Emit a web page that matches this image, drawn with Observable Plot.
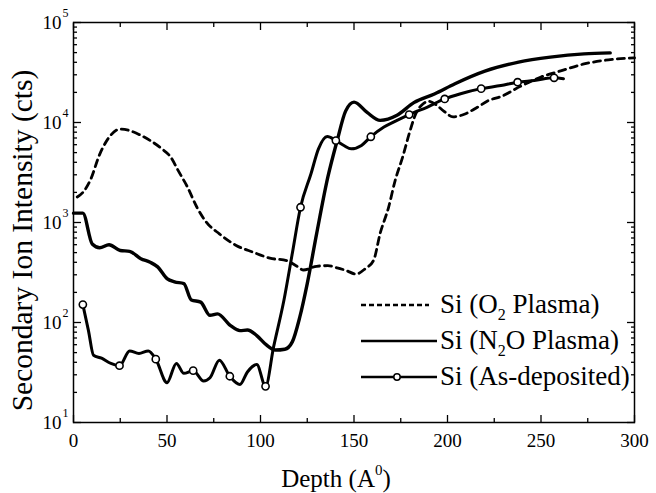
<!DOCTYPE html>
<html>
<head>
<meta charset="utf-8">
<script src="https://cdn.jsdelivr.net/npm/d3@7"></script>
<script src="https://cdn.jsdelivr.net/npm/@observablehq/plot@0.6"></script>
<style>
  html, body { margin: 0; padding: 0; background: #fff; }
  #chart { width: 656px; height: 493px; }
</style>
</head>
<body>
<div id="chart"></div>
<script>
// ---- Data ----
const o2Depth = [2, 5, 9, 14, 20, 25, 30, 35, 41, 47, 52, 56, 61, 66, 71, 78, 87, 96, 105, 114, 119, 123, 130, 136, 141, 146, 151, 156, 160.5, 164, 168.5, 172, 176, 179.5, 183, 187, 190, 194, 198, 203, 209, 216, 222, 229, 239, 250, 261, 273, 286, 300];
const o2Value = [1800, 2000, 2650, 4800, 7500, 8600, 8300, 7600, 6600, 5500, 4500, 3300, 2250, 1420, 1010, 770, 590, 505, 440, 415, 370, 335, 365, 370, 352, 330, 305, 345, 420, 780, 1420, 2630, 4500, 7700, 12200, 15400, 16300, 15000, 13000, 11400, 12100, 14200, 16600, 18300, 23000, 28500, 33000, 38500, 42300, 44300];

const n2oDepth = [0, 5, 10, 14, 19, 25, 30, 36, 41, 45, 50, 54, 59, 63, 68, 73, 77, 84, 89, 93, 98, 103, 108, 113, 117, 121, 125, 130, 136, 141, 145.5, 150, 157, 164, 173, 182, 193, 204, 220, 238, 255, 273, 287];
const n2oValue = [1240, 1240, 610, 560, 600, 525, 515, 435, 400, 360, 275, 255, 245, 168, 160, 118, 122, 93, 83, 84, 74, 60, 53, 54, 64, 113, 245, 770, 2840, 6600, 13000, 16000, 12600, 10500, 11800, 15800, 19300, 24400, 32600, 40100, 45000, 48600, 49700];

const asDepth = [5, 8, 10.7, 15, 20, 24.6, 30, 35, 40, 44, 50, 55, 59, 64, 69.6, 73, 78, 83.6, 89, 93, 98, 102.7, 107, 112.5, 117, 121.4, 127, 131, 135.7, 140.3, 144.6, 148.5, 154, 159, 166, 173, 179.5, 189, 198.5, 207, 218, 228.6, 237.5, 246.4, 257, 262];
const asValue = [151, 83, 47, 44, 39, 37, 52, 49, 52, 43, 25, 39, 31, 33, 26, 28, 42, 29, 24, 32, 38, 23, 57, 166, 490, 1420, 3070, 5450, 7240, 6600, 5890, 5450, 5900, 7200, 9000, 10500, 12000, 14200, 17200, 19400, 21800, 23400, 25300, 26300, 28000, 27400];
const asMarked = [1, 0, 0, 0, 0, 1, 0, 0, 0, 1, 0, 0, 0, 1, 0, 0, 0, 1, 0, 0, 0, 1, 0, 0, 0, 1, 0, 0, 0, 1, 0, 0, 0, 1, 0, 0, 1, 0, 1, 0, 1, 0, 1, 0, 1, 0];

const xMajor = [0, 50, 100, 150, 200, 250, 300];
const xMinor = [25, 75, 125, 175, 225, 275];
const yMajor = [10, 100, 1000, 10000, 100000];
const yExp = ["1", "2", "3", "4", "5"];
const yMinor = [1, 2, 3, 4].flatMap(e => [2, 3, 4, 5, 6, 7, 8, 9].map(m => m * Math.pow(10, e)));

const legendLabels = [
  ["Si (O", "2", " Plasma)"],
  ["Si (N", "2", "O Plasma)"],
  ["Si (As-deposited)", "", ""]
];

// ---- Tables ----
const o2 = o2Depth.map((d, i) => ({d, v: o2Value[i]}));
const n2o = n2oDepth.map((d, i) => ({d, v: n2oValue[i]}));
const asd = asDepth.map((d, i) => ({d, v: asValue[i], m: asMarked[i]}));
const yLab = yMajor.map((v, i) => ({v, e: yExp[i]}));

const FONT = "'Liberation Serif', 'Times New Roman', serif";

const chart = Plot.plot({
  width: 656,
  height: 493,
  marginLeft: 73,
  marginRight: 22,
  marginTop: 22,
  marginBottom: 71,
  style: {fontFamily: FONT, background: "#fff", color: "#000"},
  x: {domain: [0, 300]},
  y: {type: "log", domain: [10, 100000]},
  marks: [
    // inward ticks
    Plot.axisX({anchor: "bottom", ticks: xMajor, tickSize: -7, tickFormat: () => "", label: null, strokeWidth: 1.3}),
    Plot.axisX({anchor: "bottom", ticks: xMinor, tickSize: -4, tickFormat: () => "", label: null, strokeWidth: 1.3}),
    Plot.axisX({anchor: "top", ticks: xMajor, tickSize: -7, tickFormat: () => "", label: null, strokeWidth: 1.3}),
    Plot.axisX({anchor: "top", ticks: xMinor, tickSize: -4, tickFormat: () => "", label: null, strokeWidth: 1.3}),
    Plot.axisY({anchor: "left", ticks: yMajor, tickSize: -8, tickFormat: () => "", label: null, strokeWidth: 1.3}),
    Plot.axisY({anchor: "left", ticks: yMinor, tickSize: -4, tickFormat: () => "", label: null, strokeWidth: 1.3}),
    Plot.axisY({anchor: "right", ticks: yMajor, tickSize: -8, tickFormat: () => "", label: null, strokeWidth: 1.3}),
    Plot.axisY({anchor: "right", ticks: yMinor, tickSize: -4, tickFormat: () => "", label: null, strokeWidth: 1.3}),
    // x tick labels
    Plot.axisX({anchor: "bottom", ticks: xMajor, tickSize: 0, tickPadding: 11, fontSize: 19, label: null}),
    // y tick labels 10^n
    Plot.text(yLab, {y: "v", text: () => "10", frameAnchor: "left", dx: -12, textAnchor: "end", fontSize: 19}),
    Plot.text(yLab, {y: "v", text: "e", frameAnchor: "left", dx: -11, dy: -9, textAnchor: "start", fontSize: 12}),
    // y title
    Plot.text(["Secondary Ion Intensity (cts)"], {frameAnchor: "left", dx: -51, dy: 18, rotate: -90, textAnchor: "middle", fontSize: 29.5}),
    // data
    Plot.line(o2, {x: "d", y: "v", stroke: "#000", strokeWidth: 2.8, strokeDasharray: "7,5", curve: "monotone-x"}),
    Plot.line(n2o, {x: "d", y: "v", stroke: "#000", strokeWidth: 3.4, curve: "monotone-x"}),
    Plot.line(asd, {x: "d", y: "v", stroke: "#000", strokeWidth: 3, curve: "monotone-x"}),
    Plot.dot(asd.filter(p => p.m), {x: "d", y: "v", r: 3.6, fill: "#fff", stroke: "#000", strokeWidth: 1.6}),
    Plot.frame({stroke: "#000", strokeWidth: 1.5})
  ]
});

document.getElementById("chart").appendChild(chart);

// ---- x title with superscript & legend with subscripts ----
const svg = d3.select(chart);
const xt = svg.append("text")
  .attr("x", 336).attr("y", 487)
  .attr("text-anchor", "middle")
  .attr("font-family", FONT).attr("font-size", 25).attr("fill", "#000");
xt.append("tspan").text("Depth (A");
xt.append("tspan").attr("font-size", 15).attr("dy", -12).text("0");
xt.append("tspan").attr("dy", 12).text(")");

const lg = svg.append("g").attr("font-family", FONT).attr("fill", "#000").attr("text-anchor", "start");
const rowY = [305, 341, 377];
legendLabels.forEach((parts, i) => {
  const y = rowY[i];
  const ln = lg.append("line")
    .attr("x1", 361).attr("x2", i === 0 ? 429 : 437)
    .attr("y1", y).attr("y2", y)
    .attr("stroke", "#000").attr("stroke-width", i === 0 ? 2.4 : 2.6);
  if (i === 0) ln.attr("stroke-dasharray", "5,3");
  if (i === 2) {
    lg.append("circle").attr("cx", 397).attr("cy", y).attr("r", 3.2)
      .attr("fill", "#fff").attr("stroke", "#000").attr("stroke-width", 1.5);
  }
  const t = lg.append("text").attr("x", 440).attr("y", y + 8).attr("font-size", 27).attr("text-anchor", "start");
  t.append("tspan").text(parts[0]);
  if (parts[1]) {
    t.append("tspan").attr("font-size", 16).attr("dy", 7).text(parts[1]);
    t.append("tspan").attr("dy", -7).text(parts[2]);
  }
});
</script>
</body>
</html>
